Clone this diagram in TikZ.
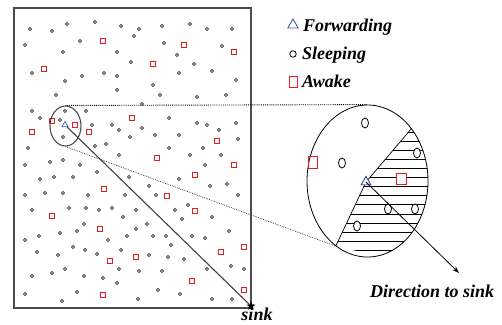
\documentclass[tikz,border=0pt]{standalone}
\usepackage{fontspec}
\setmainfont{Liberation Serif}
\usetikzlibrary{shapes.geometric,arrows.meta}
\definecolor{fwdblue}{RGB}{70,90,175}
\definecolor{awakered}{RGB}{225,30,35}
\tikzset{
  lbl/.style={font=\fontsize{18}{20}\selectfont\bfseries\itshape, inner sep=0},
  sleepdot/.style={circle, draw=black!70, fill=black!40, line width=0.5pt, inner sep=0, minimum size=3.4pt},
  awakebox/.style={rectangle, draw=awakered, line width=0.8pt, inner sep=0, minimum width=4.5pt, minimum height=5.5pt},
  fwdtri/.style={regular polygon, regular polygon sides=3, draw=fwdblue, line width=0.9pt, inner sep=0, minimum size=11pt},
  sleepring/.style={ellipse, draw, line width=0.8pt, inner sep=0, minimum width=7pt, minimum height=10pt, fill=white},
}

\begin{document}
\begin{tikzpicture}[x=1pt,y=-1pt]
  \useasboundingbox (0,0) rectangle (502,324);
  % field
  \draw[black!70, line width=1.6pt] (14,8) rectangle (251,308);
  \foreach \x/\y in {30/29,52/31,67/24,95/22,121/26,139/29,162/26,190/24,207/29,232/29,
      25/45,80/41,134/36,164/43,222/46,63/52,117/52,177/55,131/62,194/64,
      32/73,82/76,104/73,117/76,179/73,212/71,65/81,236/80,117/90,153/85,
      56/95,160/95,197/97,226/95,142/104,32/111,65/111,86/111,
      40/118,60/120,92/125,169/118,197/123,207/125,236/123,
      112/125,119/130,142/128,219/130,63/137,130/137,155/135,179/135,238/139,
      28/148,95/146,106/144,169/148,203/148,119/155,190/155,221/155,
      25/165,50/162,63/160,80/165,205/165,
      40/179,54/177,73/177,97/172,129/177,179/179,210/186,227/184,
      25/195,45/193,63/193,88/195,125/195,149/186,156/195,238/195,
      32/210,69/208,86/208,99/210,112/208,136/210,175/210,188/205,182/219,212/217,123/217,
      84/224,147/224,60/233,77/231,136/229,39/236,25/240,108/240,127/236,153/236,
      166/236,192/236,205/238,229/231,
      171/245,37/252,58/255,73/247,85/250,97/254,121/250,149/255,168/257,184/259,
      65/269,52/273,32/276,84/276,103/278,117/283,119/269,139/271,162/271,207/269,231/266,244/269,
      25/294,62/301,77/292,138/299,158/290,180/294,212/299,232/299}
    \node[sleepdot] at (\x,\y) {};
  \foreach \x/\y in {103/41,184/45,234/52,153/64,44/69,52/121,75/125,132/118,32/132,89/132,
      217/141,157/158,234/165,195/175,104/189,167/196,52/216,195/211,100/229,136/257,
      221/252,244/247,110/261,192/281,103/295,244/290}
    \node[awakebox] at (\x,\y) {};

  % zoomed region
  \node[ellipse, draw=black!70, line width=1.1pt, inner sep=0, minimum width=31pt, minimum height=40pt] (area) at (65.5,126) {};
  \node[fwdtri, minimum size=7pt, line width=0.7pt] (srcfwd) at (65,125) {};
  \node[star, star points=5, star point ratio=2.2, fill=black, inner sep=0, minimum size=9pt] (sink) at (251,306) {};
  \node[lbl] (sinklbl) at (257,314.5) {sink};
  \draw[black!75, line width=1.1pt] (srcfwd) -- (sink);

  \node[ellipse, draw, line width=0.8pt, inner sep=0, minimum width=121pt, minimum height=152pt] (lens) at (367.5,181) {};
  \node[fwdtri] (fwd) at (366,182) {};
  \draw[densely dotted, line width=0.9pt] (area.north) -- (lens.north);
  \draw[densely dotted, black!70, line width=0.8pt] (area.south) -- (lens.244);

  \begin{scope}
    \clip (lens.center) ellipse (60.5 and 76);
    \clip (lens.50) -- (fwd.center) -- (lens.244) -- (440,270) -- (440,95) -- cycle;
    \foreach \k in {0,...,13}
      \draw[line width=0.8pt] (300,132+9.1*\k) -- (440,132+9.1*\k);
  \end{scope}
  \draw[line width=0.7pt] (lens.50) -- (fwd.center) -- (lens.244);

  \node[sleepring] at (365,123) {};
  \node[sleepring] at (342,163) {};
  \node[sleepring] at (417,153) {};
  \node[sleepring] at (388,209) {};
  \node[sleepring] at (415,209) {};
  \node[sleepring] at (357,226) {};
  \node[awakebox, minimum width=9pt, minimum height=12pt] at (313,162) {};
  \node[awakebox, minimum width=10pt, minimum height=11pt, fill=white] at (401,179) {};
  \node[fwdtri, fill=white] at (366,182) {};

  \coordinate (dirtip) at (459,273);
  \draw[line width=0.8pt, -{Stealth[length=7pt,width=5pt]}] (fwd.center) -- (dirtip);
  \node[lbl, anchor=base west] (dirlbl) at (370,297) {Direction to sink};

  % legend
  \node[fwdtri, minimum size=12pt] (keyfwd) at (293,25) {};
  \node[lbl, anchor=base west] (keyfwdlbl) at (303,31) {Forwarding};
  \node[circle, draw, line width=0.8pt, inner sep=0, minimum size=6.5pt] (keysleep) at (293,54) {};
  \node[lbl, anchor=base west] (keysleeplbl) at (302,59) {Sleeping};
  \node[awakebox, minimum width=8pt, minimum height=11pt] (keyawake) at (293,82) {};
  \node[lbl, anchor=base west] (keyawakelbl) at (302,87) {Awake};
\end{tikzpicture}
\end{document}
